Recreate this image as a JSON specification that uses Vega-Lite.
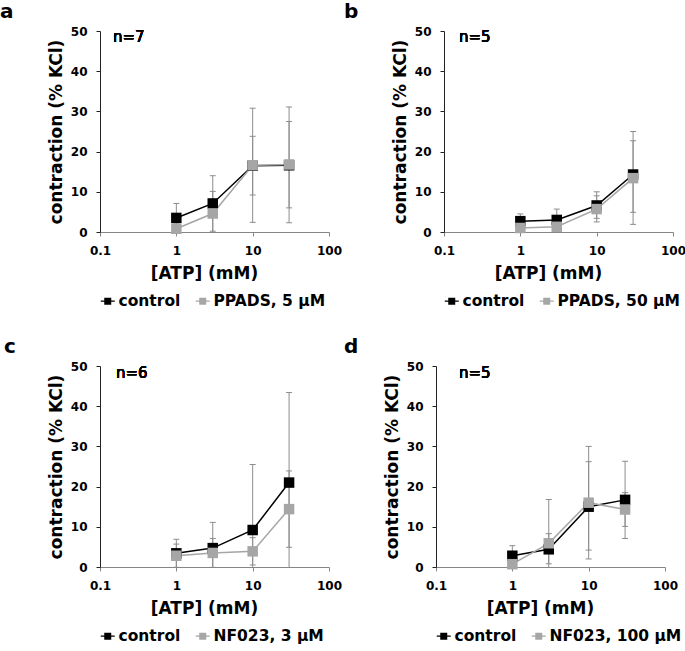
{
  "$schema": "https://vega.github.io/schema/vega-lite/v6.json",
  "padding": {"left": 0, "top": 2, "right": 0, "bottom": 0},
  "background": "#ffffff",
  "datasets": {
    "pts": [
      {"panel": "a", "series": "control", "atp": 1, "y": 3.5, "lo": -0.1, "hi": 7.1},
      {"panel": "a", "series": "control", "atp": 3, "y": 7.1, "lo": 0.2, "hi": 14.0},
      {"panel": "a", "series": "control", "atp": 10, "y": 16.5, "lo": 9.2, "hi": 23.8},
      {"panel": "a", "series": "control", "atp": 30, "y": 16.6, "lo": 6.0, "hi": 27.5},
      {"panel": "a", "series": "PPADS, 5 µM", "atp": 1, "y": 0.8, "lo": -0.5, "hi": 2.0},
      {"panel": "a", "series": "PPADS, 5 µM", "atp": 3, "y": 4.6, "lo": -0.9, "hi": 10.1},
      {"panel": "a", "series": "PPADS, 5 µM", "atp": 10, "y": 16.6, "lo": 2.4, "hi": 30.8},
      {"panel": "a", "series": "PPADS, 5 µM", "atp": 30, "y": 16.8, "lo": 2.3, "hi": 31.1},
      {"panel": "b", "series": "control", "atp": 1, "y": 2.7, "lo": 1.0, "hi": 4.5},
      {"panel": "b", "series": "control", "atp": 3, "y": 3.0, "lo": 0.3, "hi": 5.7},
      {"panel": "b", "series": "control", "atp": 10, "y": 6.6, "lo": 3.4, "hi": 10.0},
      {"panel": "b", "series": "control", "atp": 30, "y": 14.3, "lo": 4.9, "hi": 22.7},
      {"panel": "b", "series": "PPADS, 50 µM", "atp": 1, "y": 1.0, "lo": -0.2, "hi": 2.0},
      {"panel": "b", "series": "PPADS, 50 µM", "atp": 3, "y": 1.3, "lo": -0.2, "hi": 2.6},
      {"panel": "b", "series": "PPADS, 50 µM", "atp": 10, "y": 5.7, "lo": 2.5, "hi": 9.0},
      {"panel": "b", "series": "PPADS, 50 µM", "atp": 30, "y": 13.4, "lo": 1.9, "hi": 25.0},
      {"panel": "c", "series": "control", "atp": 1, "y": 3.4, "lo": -0.1, "hi": 6.9},
      {"panel": "c", "series": "control", "atp": 3, "y": 4.7, "lo": -1.7, "hi": 11.1},
      {"panel": "c", "series": "control", "atp": 10, "y": 9.2, "lo": -7.1, "hi": 25.5},
      {"panel": "c", "series": "control", "atp": 30, "y": 21.0, "lo": -1.4, "hi": 43.4},
      {"panel": "c", "series": "NF023, 3 µM", "atp": 1, "y": 2.8, "lo": -0.1, "hi": 5.7},
      {"panel": "c", "series": "NF023, 3 µM", "atp": 3, "y": 3.5, "lo": -0.1, "hi": 7.1},
      {"panel": "c", "series": "NF023, 3 µM", "atp": 10, "y": 3.9, "lo": 0.5, "hi": 7.3},
      {"panel": "c", "series": "NF023, 3 µM", "atp": 30, "y": 14.4, "lo": 4.9, "hi": 23.9},
      {"panel": "d", "series": "control", "atp": 1, "y": 2.8, "lo": 0.3, "hi": 5.3},
      {"panel": "d", "series": "control", "atp": 3, "y": 4.4, "lo": 0.8, "hi": 8.3},
      {"panel": "d", "series": "control", "atp": 10, "y": 15.0, "lo": 4.2, "hi": 26.2},
      {"panel": "d", "series": "control", "atp": 30, "y": 16.7, "lo": 7.1, "hi": 26.3},
      {"panel": "d", "series": "NF023, 100 µM", "atp": 1, "y": 0.7, "lo": -0.5, "hi": 1.9},
      {"panel": "d", "series": "NF023, 100 µM", "atp": 3, "y": 5.9, "lo": -5.0, "hi": 16.8},
      {"panel": "d", "series": "NF023, 100 µM", "atp": 10, "y": 16.0, "lo": 2.0, "hi": 30.0},
      {"panel": "d", "series": "NF023, 100 µM", "atp": 30, "y": 14.3, "lo": 10.1, "hi": 18.5}
    ]
  },
  "data": {"name": "pts"},
  "vconcat": [
    {
      "hconcat": [
        {
          "title": {"text": "a", "dx": -100},
          "width": 229, "height": 201,
          "transform": [{"filter": "datum.panel == 'a'"}],
          "encoding": {"x": {"field": "atp", "type": "quantitative", "scale": {"type": "log", "domain": [0.1, 100]}, "axis": {"values": [0.1, 1, 10, 100], "format": "~g", "title": "[ATP] (mM)"}}},
          "layer": [
            {"mark": {"type": "rule", "color": "#8c8c8c", "clip": true}, "encoding": {"y": {"field": "lo", "type": "quantitative", "scale": {"domain": [0, 50]}, "title": "contraction (% KCl)"}, "y2": {"field": "hi"}}},
            {"mark": {"type": "tick", "orient": "horizontal", "color": "#8c8c8c", "size": 6, "thickness": 1, "opacity": 1, "clip": true}, "encoding": {"y": {"field": "lo", "type": "quantitative", "title": "contraction (% KCl)"}}},
            {"mark": {"type": "tick", "orient": "horizontal", "color": "#8c8c8c", "size": 6, "thickness": 1, "opacity": 1, "clip": true}, "encoding": {"y": {"field": "hi", "type": "quantitative", "title": "contraction (% KCl)"}}},
            {"mark": {"type": "line", "strokeWidth": 1.5}, "encoding": {"y": {"field": "y", "type": "quantitative", "title": "contraction (% KCl)"}, "stroke": {"field": "series", "type": "nominal", "scale": {"domain": ["control", "PPADS, 5 µM"], "range": ["#000000", "#a6a6a6"]}}}},
            {"mark": {"type": "point", "shape": "square", "filled": true, "size": 110, "opacity": 1}, "encoding": {"y": {"field": "y", "type": "quantitative", "title": "contraction (% KCl)"}, "color": {"field": "series", "type": "nominal", "scale": {"domain": ["control", "PPADS, 5 µM"], "range": ["#000000", "#a6a6a6"]}}}},
            {"mark": {"type": "text", "align": "left", "baseline": "middle", "fontSize": 15, "fontWeight": "normal", "font": "DejaVu Sans"}, "encoding": {"x": {"datum": 0.148}, "y": {"datum": 48.5}, "text": {"value": "n=7"}}}
          ]
        },
        {
          "title": {"text": "b", "dx": -100},
          "width": 229, "height": 201,
          "transform": [{"filter": "datum.panel == 'b'"}],
          "encoding": {"x": {"field": "atp", "type": "quantitative", "scale": {"type": "log", "domain": [0.1, 100]}, "axis": {"values": [0.1, 1, 10, 100], "format": "~g", "title": "[ATP] (mM)"}}},
          "layer": [
            {"mark": {"type": "rule", "color": "#8c8c8c", "clip": true}, "encoding": {"y": {"field": "lo", "type": "quantitative", "scale": {"domain": [0, 50]}, "title": "contraction (% KCl)"}, "y2": {"field": "hi"}}},
            {"mark": {"type": "tick", "orient": "horizontal", "color": "#8c8c8c", "size": 6, "thickness": 1, "opacity": 1, "clip": true}, "encoding": {"y": {"field": "lo", "type": "quantitative", "title": "contraction (% KCl)"}}},
            {"mark": {"type": "tick", "orient": "horizontal", "color": "#8c8c8c", "size": 6, "thickness": 1, "opacity": 1, "clip": true}, "encoding": {"y": {"field": "hi", "type": "quantitative", "title": "contraction (% KCl)"}}},
            {"mark": {"type": "line", "strokeWidth": 1.5}, "encoding": {"y": {"field": "y", "type": "quantitative", "title": "contraction (% KCl)"}, "stroke": {"field": "series", "type": "nominal", "scale": {"domain": ["control", "PPADS, 50 µM"], "range": ["#000000", "#a6a6a6"]}}}},
            {"mark": {"type": "point", "shape": "square", "filled": true, "size": 110, "opacity": 1}, "encoding": {"y": {"field": "y", "type": "quantitative", "title": "contraction (% KCl)"}, "color": {"field": "series", "type": "nominal", "scale": {"domain": ["control", "PPADS, 50 µM"], "range": ["#000000", "#a6a6a6"]}}}},
            {"mark": {"type": "text", "align": "left", "baseline": "middle", "fontSize": 15, "fontWeight": "normal", "font": "DejaVu Sans"}, "encoding": {"x": {"datum": 0.157}, "y": {"datum": 48.5}, "text": {"value": "n=5"}}}
          ]
        }
      ],
      "spacing": 2,
      "resolve": {"scale": {"color": "independent", "stroke": "independent", "x": "independent", "y": "independent"}, "legend": {"color": "independent", "stroke": "independent"}}
    },
    {
      "hconcat": [
        {
          "title": {"text": "c", "dx": -96},
          "width": 229, "height": 201,
          "transform": [{"filter": "datum.panel == 'c'"}],
          "encoding": {"x": {"field": "atp", "type": "quantitative", "scale": {"type": "log", "domain": [0.1, 100]}, "axis": {"values": [0.1, 1, 10, 100], "format": "~g", "title": "[ATP] (mM)"}}},
          "layer": [
            {"mark": {"type": "rule", "color": "#8c8c8c", "clip": true}, "encoding": {"y": {"field": "lo", "type": "quantitative", "scale": {"domain": [0, 50]}, "title": "contraction (% KCl)"}, "y2": {"field": "hi"}}},
            {"mark": {"type": "tick", "orient": "horizontal", "color": "#8c8c8c", "size": 6, "thickness": 1, "opacity": 1, "clip": true}, "encoding": {"y": {"field": "lo", "type": "quantitative", "title": "contraction (% KCl)"}}},
            {"mark": {"type": "tick", "orient": "horizontal", "color": "#8c8c8c", "size": 6, "thickness": 1, "opacity": 1, "clip": true}, "encoding": {"y": {"field": "hi", "type": "quantitative", "title": "contraction (% KCl)"}}},
            {"mark": {"type": "line", "strokeWidth": 1.5}, "encoding": {"y": {"field": "y", "type": "quantitative", "title": "contraction (% KCl)"}, "stroke": {"field": "series", "type": "nominal", "scale": {"domain": ["control", "NF023, 3 µM"], "range": ["#000000", "#a6a6a6"]}}}},
            {"mark": {"type": "point", "shape": "square", "filled": true, "size": 110, "opacity": 1}, "encoding": {"y": {"field": "y", "type": "quantitative", "title": "contraction (% KCl)"}, "color": {"field": "series", "type": "nominal", "scale": {"domain": ["control", "NF023, 3 µM"], "range": ["#000000", "#a6a6a6"]}}}},
            {"mark": {"type": "text", "align": "left", "baseline": "middle", "fontSize": 15, "fontWeight": "normal", "font": "DejaVu Sans"}, "encoding": {"x": {"datum": 0.162}, "y": {"datum": 48.3}, "text": {"value": "n=6"}}}
          ]
        },
        {
          "title": {"text": "d", "dx": -92},
          "width": 229, "height": 201,
          "transform": [{"filter": "datum.panel == 'd'"}],
          "encoding": {"x": {"field": "atp", "type": "quantitative", "scale": {"type": "log", "domain": [0.1, 100]}, "axis": {"values": [0.1, 1, 10, 100], "format": "~g", "title": "[ATP] (mM)"}}},
          "layer": [
            {"mark": {"type": "rule", "color": "#8c8c8c", "clip": true}, "encoding": {"y": {"field": "lo", "type": "quantitative", "scale": {"domain": [0, 50]}, "title": "contraction (% KCl)"}, "y2": {"field": "hi"}}},
            {"mark": {"type": "tick", "orient": "horizontal", "color": "#8c8c8c", "size": 6, "thickness": 1, "opacity": 1, "clip": true}, "encoding": {"y": {"field": "lo", "type": "quantitative", "title": "contraction (% KCl)"}}},
            {"mark": {"type": "tick", "orient": "horizontal", "color": "#8c8c8c", "size": 6, "thickness": 1, "opacity": 1, "clip": true}, "encoding": {"y": {"field": "hi", "type": "quantitative", "title": "contraction (% KCl)"}}},
            {"mark": {"type": "line", "strokeWidth": 1.5}, "encoding": {"y": {"field": "y", "type": "quantitative", "title": "contraction (% KCl)"}, "stroke": {"field": "series", "type": "nominal", "scale": {"domain": ["control", "NF023, 100 µM"], "range": ["#000000", "#a6a6a6"]}}}},
            {"mark": {"type": "point", "shape": "square", "filled": true, "size": 110, "opacity": 1}, "encoding": {"y": {"field": "y", "type": "quantitative", "title": "contraction (% KCl)"}, "color": {"field": "series", "type": "nominal", "scale": {"domain": ["control", "NF023, 100 µM"], "range": ["#000000", "#a6a6a6"]}}}},
            {"mark": {"type": "text", "align": "left", "baseline": "middle", "fontSize": 15, "fontWeight": "normal", "font": "DejaVu Sans"}, "encoding": {"x": {"datum": 0.2}, "y": {"datum": 48.3}, "text": {"value": "n=5"}}}
          ]
        }
      ],
      "spacing": 2,
      "resolve": {"scale": {"color": "independent", "stroke": "independent", "x": "independent", "y": "independent"}, "legend": {"color": "independent", "stroke": "independent"}}
    }
  ],
  "spacing": 27,
  "align": "none",
  "resolve": {"scale": {"color": "independent", "stroke": "independent", "x": "independent", "y": "independent"}, "legend": {"color": "independent", "stroke": "independent"}},
  "config": {
    "view": {"stroke": null},
    "font": "DejaVu Sans",
    "title": {"anchor": "start", "frame": "group", "fontSize": 20, "fontWeight": "bold", "font": "DejaVu Sans", "baseline": "alphabetic", "offset": 3, "color": "#000000"},
    "axis": {"grid": false, "labelFont": "DejaVu Sans", "labelFontWeight": "bold", "labelFontSize": 12, "labelColor": "#000000", "titleFont": "DejaVu Sans", "titleFontWeight": "bold", "titleColor": "#000000"},
    "axisX": {"domainColor": "#868686", "tickColor": "#868686", "tickSize": 4, "labelPadding": 9, "titleFontSize": 17, "titlePadding": 9, "titleX": 104, "labelFlush": false},
    "axisY": {"domainColor": "#222222", "tickColor": "#222222", "tickSize": 4, "labelPadding": 9, "values": [0, 10, 20, 30, 40, 50], "titleFontSize": 17, "titlePadding": 5},
    "legend": {"orient": "bottom", "direction": "horizontal", "title": null, "labelFont": "DejaVu Sans", "labelFontWeight": "bold", "labelFontSize": 15.5, "labelColor": "#000000", "symbolType": "M-1,-0.1H1V0.1H-1ZM-0.5,-0.5H0.5V0.5H-0.5Z", "symbolSize": 196, "symbolStrokeWidth": 0, "columnPadding": 14, "labelOffset": 3, "offset": 12}
  }
}
